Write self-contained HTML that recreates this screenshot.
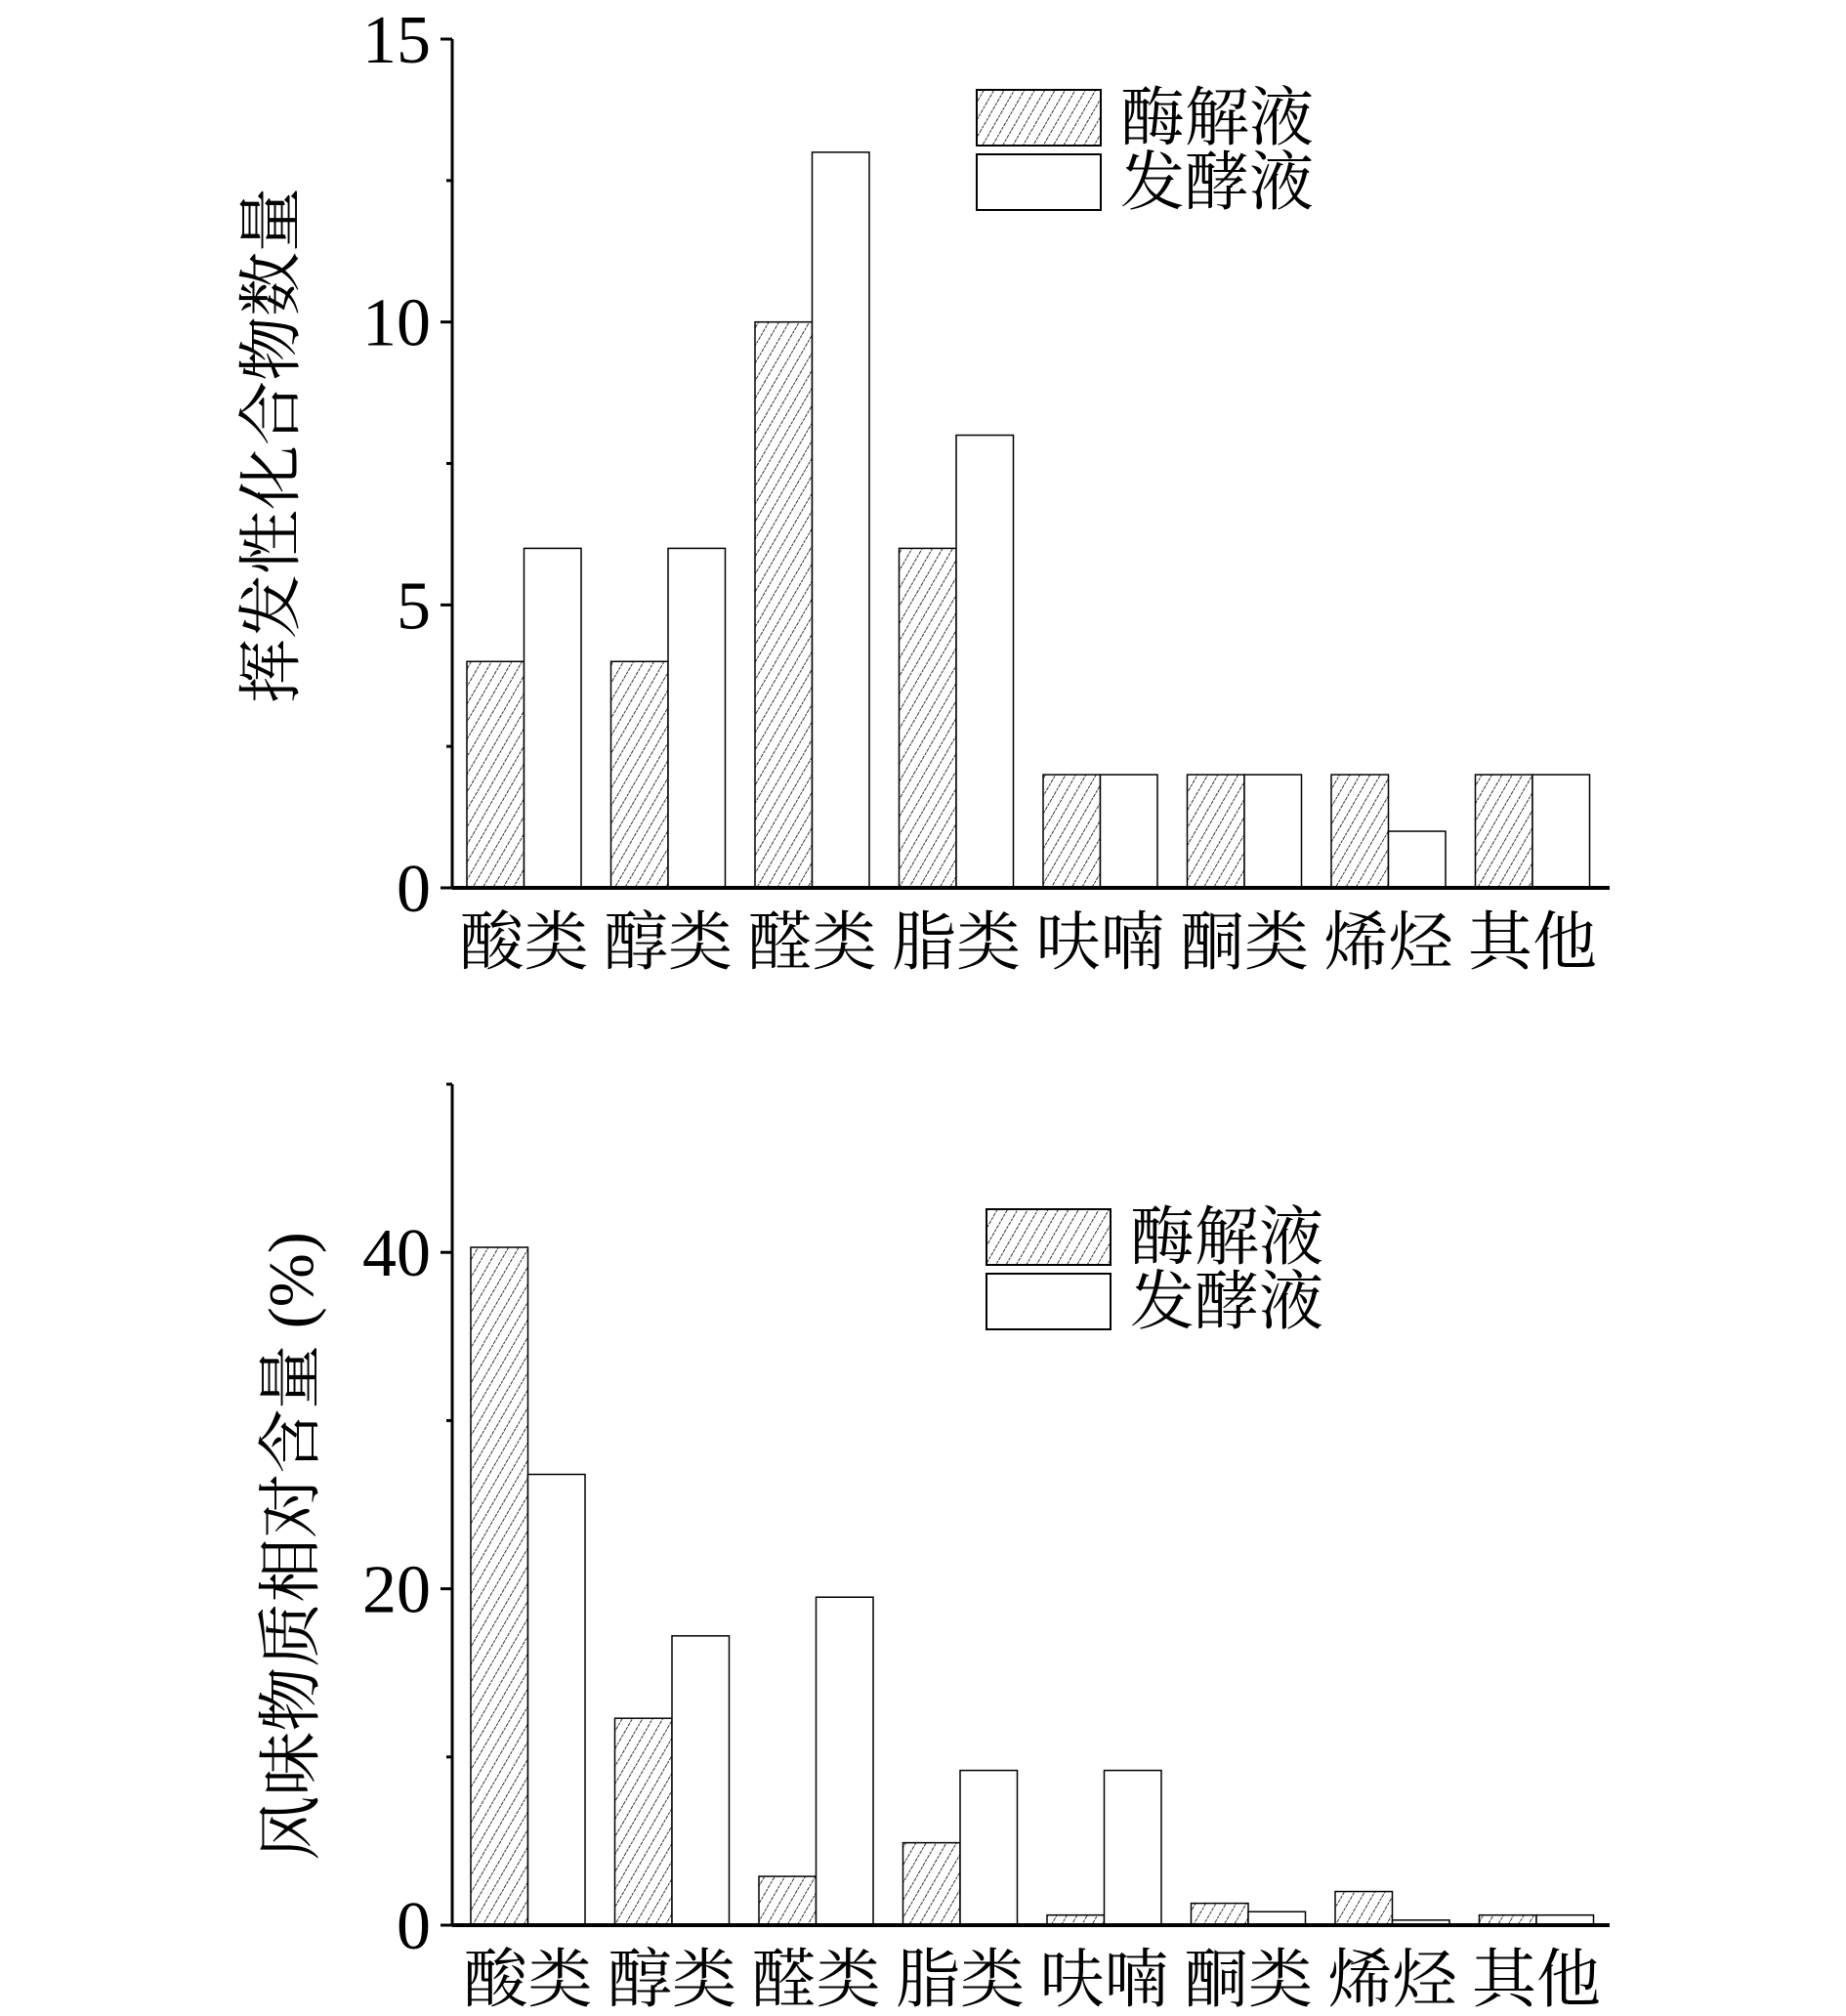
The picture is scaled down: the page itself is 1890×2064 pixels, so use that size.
<!DOCTYPE html>
<html><head><meta charset="utf-8"><style>
html,body{margin:0;padding:0;background:#fff}
svg{display:block}
text{font-family:"Liberation Serif","Noto Serif CJK SC","Noto Sans CJK SC",serif;fill:#000}
</style></head><body>
<svg id="fig" width="1890" height="2064" viewBox="0 0 1890 2064" xmlns="http://www.w3.org/2000/svg">
<defs>
<pattern id="hatch" patternUnits="userSpaceOnUse" width="9" height="9" patternTransform="rotate(30)">
<rect width="9" height="9" fill="#fff"/>
<line x1="0" y1="0" x2="0" y2="9" stroke="#333" stroke-width="2" stroke-dasharray="3,1"/>
</pattern>
</defs>
</svg>
<script>
const categories=["酸类","醇类","醛类","脂类","呋喃","酮类","烯烃","其他"];
const countEnzyme=[4,4,10,6,2,2,2,2];
const countFerment=[6,6,13,8,2,2,1,2];
const pctEnzyme=[40.3,12.3,2.9,4.9,0.6,1.3,2.0,0.6];
const pctFerment=[26.8,17.2,19.5,9.2,9.2,0.8,0.3,0.6];
const ticksTop=[0,5,10,15];
const ticksBottom=[0,20,40];
const seriesNames=["酶解液","发酵液"];

const NS="http://www.w3.org/2000/svg";
const svg=document.getElementById('fig');
function mk(tag,attrs,parent){const e=document.createElementNS(NS,tag);for(const k in attrs)e.setAttribute(k,attrs[k]);(parent||svg).appendChild(e);return e;}

function chart(cfg){
  const g=mk('g',{});
  
  
  const ax=463,x1=1648;
  const y=v=>cfg.y0-(v/cfg.max)*(cfg.y0-cfg.yTop);
  const gx=i=>cfg.bx0+i*147.5;
  const bw=58.5;
  categories.forEach((c,i)=>{
    const a=mk('rect',{x:gx(i),y:y(cfg.s1[i]),width:bw,height:cfg.y0-y(cfg.s1[i]),fill:'url(#hatch)',stroke:'#000','stroke-width':1.5},g);
    
    
    const b=mk('rect',{x:gx(i)+bw,y:y(cfg.s2[i]),width:bw,height:cfg.y0-y(cfg.s2[i]),fill:'#fff',stroke:'#000','stroke-width':1.5},g);
    
    
    const t=mk('text',{x:gx(i)+bw,y:cfg.y0+78,'font-size':66,'text-anchor':'middle'},g);
    t.textContent=c;
    
    
  });
  mk('line',{x1:ax,y1:cfg.yTop,x2:ax,y2:cfg.y0,stroke:'#000','stroke-width':3},g);
  mk('line',{x1:ax,y1:cfg.y0,x2:x1,y2:cfg.y0,stroke:'#000','stroke-width':4},g);
  const step=cfg.ticks[1]-cfg.ticks[0];
  for(let v=0;v<=cfg.max+1e-9;v+=step/2){
    const major=cfg.ticks.includes(v);
    mk('line',{x1:ax-(major?12:6),y1:y(v),x2:ax,y2:y(v),stroke:'#000','stroke-width':3},g);
  }
  cfg.ticks.forEach(v=>{
    const t=mk('text',{x:ax-22,y:y(v)+24,'font-size':70,'text-anchor':'end'},g);
    t.textContent=v;
    
    
  });
  const tt=mk('text',{x:0,y:0,'font-size':66,'text-anchor':'middle',transform:`translate(${cfg.tx},${cfg.ty}) rotate(-90)`},g);
  tt.textContent=cfg.title;
  
  
  seriesNames.forEach((n,i)=>{
    const ly=cfg.ly+i*66;
    const r=mk('rect',{x:cfg.lx,y:ly,width:127,height:57,fill:i?'#fff':'url(#hatch)',stroke:'#000','stroke-width':2},g);
    
    
    const t=mk('text',{x:cfg.lx+147,y:ly+51,'font-size':66},g);
    t.textContent=n;
    
    
  });
}
chart({name:'chart-count',s1:countEnzyme,s2:countFerment,ticks:ticksTop,max:15,y0:909,yTop:40,bx0:478,title:'挥发性化合物数量',tx:300,ty:456,lx:1000,ly:92});
chart({name:'chart-percent',s1:pctEnzyme,s2:pctFerment,ticks:ticksBottom,max:50,y0:1971,yTop:1110,bx0:482,title:'风味物质相对含量 (%)',tx:320,ty:1583,lx:1010,ly:1238});
</script>
</body></html>
